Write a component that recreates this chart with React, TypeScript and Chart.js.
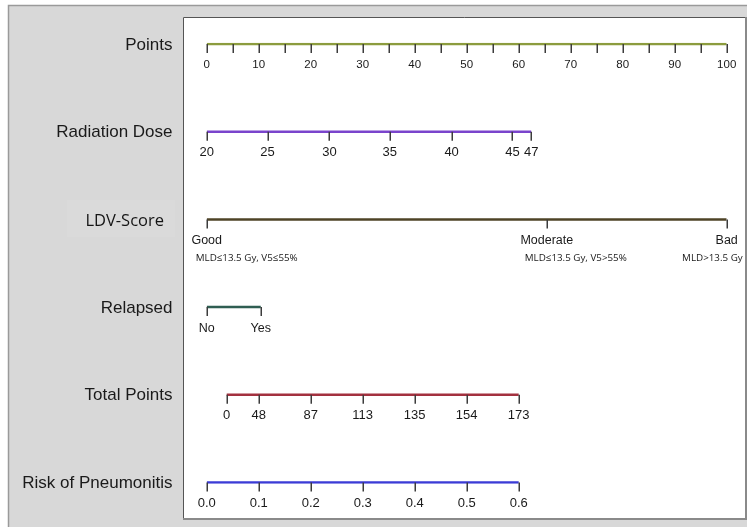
import React, { useEffect, useRef } from "react";
import { Chart, registerables } from "chart.js";

Chart.register(...registerables);

const rowNames = ["Points", "Radiation Dose", "LDV-Score", "Relapsed", "Total Points", "Risk of Pneumonitis"];

const pointsTicks = [0, 5, 10, 15, 20, 25, 30, 35, 40, 45, 50, 55, 60, 65, 70, 75, 80, 85, 90, 95, 100];
const pointsLabelValues = [0, 10, 20, 30, 40, 50, 60, 70, 80, 90, 100];

const doseLabels = ["20", "25", "30", "35", "40", "45", "47"];
const dosePoints = [0, 11.7, 23.6, 35.2, 47.1, 58.8, 62.4];

const ldvLabels = ["Good", "Moderate", "Bad"];
const ldvNotes = ["MLD\u226413.5 Gy, V5\u226455%", "MLD\u226413.5 Gy, V5>55%", "MLD>13.5 Gy"];
const ldvPoints = [0, 65.4, 100];

const relapsedLabels = ["No", "Yes"];
const relapsedPoints = [0, 10.4];

const totalPointsLabels = ["0", "48", "87", "113", "135", "154", "173"];
const totalPointsRisk = [0.0385, 0.1, 0.2, 0.3, 0.4, 0.5, 0.6];

const riskLabels = ["0.0", "0.1", "0.2", "0.3", "0.4", "0.5", "0.6"];
const riskTicks = [0, 0.1, 0.2, 0.3, 0.4, 0.5, 0.6];

const colors = ["#8c9c3e", "#7a44cc", "#4e4326", "#2f5e52", "#a3313f", "#3b3bd6"];

type RowSpec = {
  row: string;
  scale: string;
  positions: number[];
  labels: { value: number; text: string }[];
  font: string;
};

const rows: RowSpec[] = [
  {
    row: rowNames[0],
    scale: "x",
    positions: pointsTicks,
    labels: pointsLabelValues.map((v) => ({ value: v, text: String(v) })),
    font: "11.5px 'Liberation Sans', Arial, sans-serif",
  },
  {
    row: rowNames[1],
    scale: "x",
    positions: dosePoints,
    labels: dosePoints.map((v, i) => ({ value: v, text: doseLabels[i] })),
    font: "13px 'Liberation Sans', Arial, sans-serif",
  },
  {
    row: rowNames[2],
    scale: "x",
    positions: ldvPoints,
    labels: ldvPoints.map((v, i) => ({ value: v, text: ldvLabels[i] })),
    font: "12.5px 'Liberation Sans', Arial, sans-serif",
  },
  {
    row: rowNames[3],
    scale: "x",
    positions: relapsedPoints,
    labels: relapsedPoints.map((v, i) => ({ value: v, text: relapsedLabels[i] })),
    font: "12.5px 'Liberation Sans', Arial, sans-serif",
  },
  {
    row: rowNames[4],
    scale: "xr",
    positions: totalPointsRisk,
    labels: totalPointsRisk.map((v, i) => ({ value: v, text: totalPointsLabels[i] })),
    font: "13px 'Liberation Sans', Arial, sans-serif",
  },
  {
    row: rowNames[5],
    scale: "xr",
    positions: riskTicks,
    labels: riskTicks.map((v, i) => ({ value: v, text: riskLabels[i] })),
    font: "13px 'Liberation Sans', Arial, sans-serif",
  },
];

const framePlugin = {
  id: "frame",
  beforeDraw(chart: any) {
    const ctx = chart.ctx;
    const W = chart.width;
    const H = chart.height;
    ctx.save();
    ctx.fillStyle = "#ffffff";
    ctx.fillRect(0, 0, W, H);
    ctx.fillStyle = "#d8d8d8";
    ctx.fillRect(8, 5, W - 8, H - 5);
    ctx.strokeStyle = "#9a9a9a";
    ctx.lineWidth = 1.5;
    ctx.beginPath();
    ctx.moveTo(8.5, H);
    ctx.lineTo(8.5, 5.5);
    ctx.lineTo(W, 5.5);
    ctx.stroke();
    ctx.fillStyle = "#dadada";
    ctx.fillRect(67, 200, 108, 37);
    ctx.fillStyle = "#ffffff";
    ctx.fillRect(183, 17, 563, 502);
    ctx.strokeStyle = "#555555";
    ctx.lineWidth = 1;
    ctx.beginPath();
    ctx.moveTo(183.5, 519);
    ctx.lineTo(183.5, 17.5);
    ctx.lineTo(746, 17.5);
    ctx.stroke();
    ctx.strokeStyle = "#8a8a8a";
    ctx.lineWidth = 2;
    ctx.beginPath();
    ctx.moveTo(746, 17);
    ctx.lineTo(746, 519);
    ctx.lineTo(183, 519);
    ctx.stroke();
    ctx.restore();
  },
};

const nomogramPlugin = {
  id: "nomogram",
  afterDatasetsDraw(chart: any) {
    const ctx = chart.ctx;
    const yScale = chart.scales.y;
    ctx.save();
    rows.forEach((r, idx) => {
      const sx = chart.scales[r.scale];
      const y = yScale.getPixelForValue(idx);
      ctx.strokeStyle = "#3c3c3c";
      ctx.lineWidth = 1.5;
      r.positions.forEach((p) => {
        const x = Math.round(sx.getPixelForValue(p)) + 0.25;
        ctx.beginPath();
        ctx.moveTo(x, y);
        ctx.lineTo(x, y + 9);
        ctx.stroke();
      });
      ctx.fillStyle = "#1a1a1a";
      ctx.font = r.font;
      ctx.textAlign = "center";
      ctx.textBaseline = "middle";
      r.labels.forEach((l) => {
        ctx.fillText(l.text, sx.getPixelForValue(l.value), y + 21);
      });
      if (idx === 2) {
        ctx.font = "16.5px 'Open Sans', sans-serif";
        ctx.textAlign = "right";
        ctx.fillStyle = "#151515";
        ctx.fillText(r.row, 164, y + 2);
      } else {
        ctx.font = "17px 'Liberation Sans', Arial, sans-serif";
        ctx.textAlign = "right";
        ctx.fillStyle = "#1a1a1a";
        ctx.fillText(r.row, 172.5, y + 1);
      }
    });
    const sx = chart.scales.x;
    const yL = yScale.getPixelForValue(2);
    ctx.font = "9.8px 'Open Sans', sans-serif";
    ctx.fillStyle = "#1a1a1a";
    ctx.textBaseline = "middle";
    const shifts = [-11, -22, 16];
    const aligns = ["left", "left", "right"];
    ldvNotes.forEach((t, i) => {
      ctx.textAlign = aligns[i];
      ctx.fillText(t, sx.getPixelForValue(ldvPoints[i]) + shifts[i], yL + 38.5);
    });
    ctx.restore();
  },
};

export default function App() {
  const ref = useRef<HTMLCanvasElement | null>(null);
  useEffect(() => {
    if (!ref.current) return;
    const datasets = rows.map((r, idx) => ({
      label: r.row,
      data: r.positions.map((p) => ({ x: p, y: r.row })),
      xAxisID: r.scale,
      yAxisID: "y",
      borderColor: colors[idx],
      borderWidth: 2.5,
      pointRadius: 0,
      fill: false,
      tension: 0,
    }));
    const chart = new Chart(ref.current, {
      type: "line",
      data: { labels: rowNames, datasets },
      options: {
        responsive: false,
        animation: false,
        devicePixelRatio: 1,
        layout: { padding: { left: 206.7, right: 20.3, top: 44, bottom: 44.5 } },
        plugins: { legend: { display: false }, tooltip: { enabled: false } },
        scales: {
          x: { type: "linear", min: 0, max: 100, display: false },
          xr: { type: "linear", axis: "x", min: 0, max: 1.0, display: false },
          y: { type: "category", labels: rowNames, offset: false, display: false },
        },
      },
      plugins: [framePlugin, nomogramPlugin],
    } as any);
    return () => chart.destroy();
  }, []);
  return (
    <div style={{ position: "absolute", left: 0, top: 0, width: 747, height: 527 }}>
      <canvas ref={ref} width={747} height={527} />
    </div>
  );
}
